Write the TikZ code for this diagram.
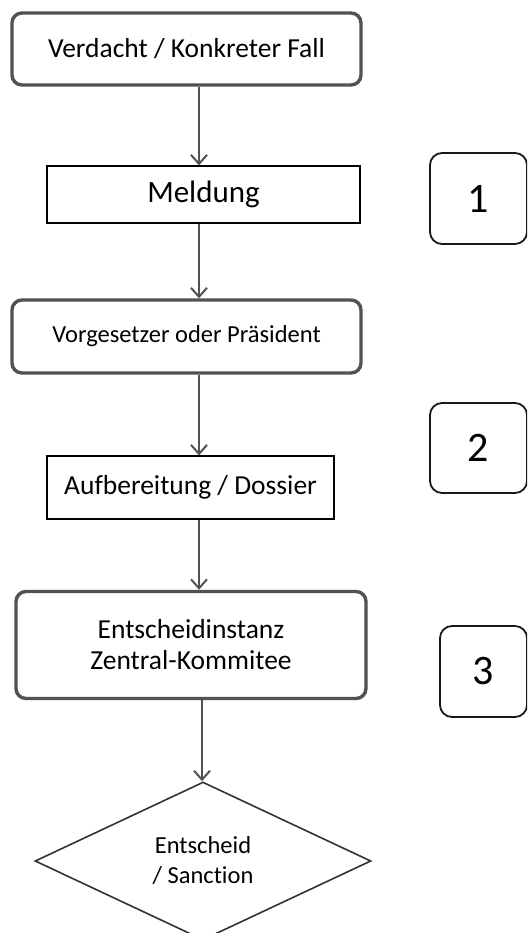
\documentclass[tikz,border=0pt]{standalone}
\usepackage{fontspec}
\setmainfont{Carlito}[Ligatures=NoCommon]
\usetikzlibrary{shapes.geometric,arrows.meta}
\tikzset{
  thickbox/.style={draw=black!68, line width=3.4pt, rounded corners=10pt, fill=white, inner sep=0pt, align=center},
  thinbox/.style={draw=black, line width=1.2pt, fill=white, inner sep=0pt, align=center},
  numbox/.style={draw=black!90, line width=1.8pt, rounded corners=12pt, fill=white, inner sep=0pt},
  flow/.style={draw=black!68, line width=2pt, -{Straight Barb[length=9pt,width=16pt,line width=2pt]}},
  decision/.style={diamond, draw=black!80, line width=1.6pt, inner sep=0pt, align=center},
}
\begin{document}
\begin{tikzpicture}[x=1pt,y=-1pt]
\useasboundingbox (0,0) rectangle (527,933);
\clip (0,0) rectangle (527,933);
\fill[white] (0,0) rectangle (527,933);
\coordinate (ax) at (199,0);
\coordinate (bx) at (202,0);

\node[thickbox, minimum width=349pt, minimum height=72pt, font=\fontsize{27.5}{32}\selectfont] (b1) at (186.5,49) {Verdacht / Konkreter Fall};
\node[thinbox, minimum width=313pt, minimum height=57pt, font=\fontsize{31}{35}\selectfont] (b2) at (203.5,194.5) {Meldung};
\node[thickbox, minimum width=349pt, minimum height=73pt, font=\fontsize{24.5}{29}\selectfont] (b3) at (186.5,336.5) {Vorgesetzer oder Präsident};
\node[thinbox, minimum width=287pt, minimum height=63pt, font=\fontsize{27.5}{32}\selectfont] (b4) at (190.5,487.5) {Aufbereitung / Dossier};
\node[thickbox, minimum width=350pt, minimum height=107pt, font=\fontsize{27.5}{31}\selectfont] (b5) at (191,645) {Entscheidinstanz\\Zentral-Kommitee};
\node[decision, minimum width=336pt, minimum height=158pt, font=\fontsize{24.5}{30}\selectfont] (d) at (203,861) {Entscheid\\/ Sanction};

\node[numbox, minimum width=97pt, minimum height=91pt, font=\fontsize{42}{48}\selectfont] (n1) at (478.5,198.5) {1};
\node[numbox, minimum width=97pt, minimum height=90pt, font=\fontsize{42}{48}\selectfont] (n2) at (478.5,448) {2};
\node[numbox, minimum width=87pt, minimum height=91pt, font=\fontsize{42}{48}\selectfont] (n3) at (483.5,671.5) {3};

\draw[flow] (b1.south -| ax) -- (b2.north -| ax);
\draw[flow] (b2.south -| ax) -- (b3.north -| ax);
\draw[flow] (b3.south -| ax) -- (b4.north -| ax);
\draw[flow] (b4.south -| ax) -- (b5.north -| ax);
\draw[flow] (b5.south -| bx) -- (d.north -| bx);
\end{tikzpicture}
\end{document}
